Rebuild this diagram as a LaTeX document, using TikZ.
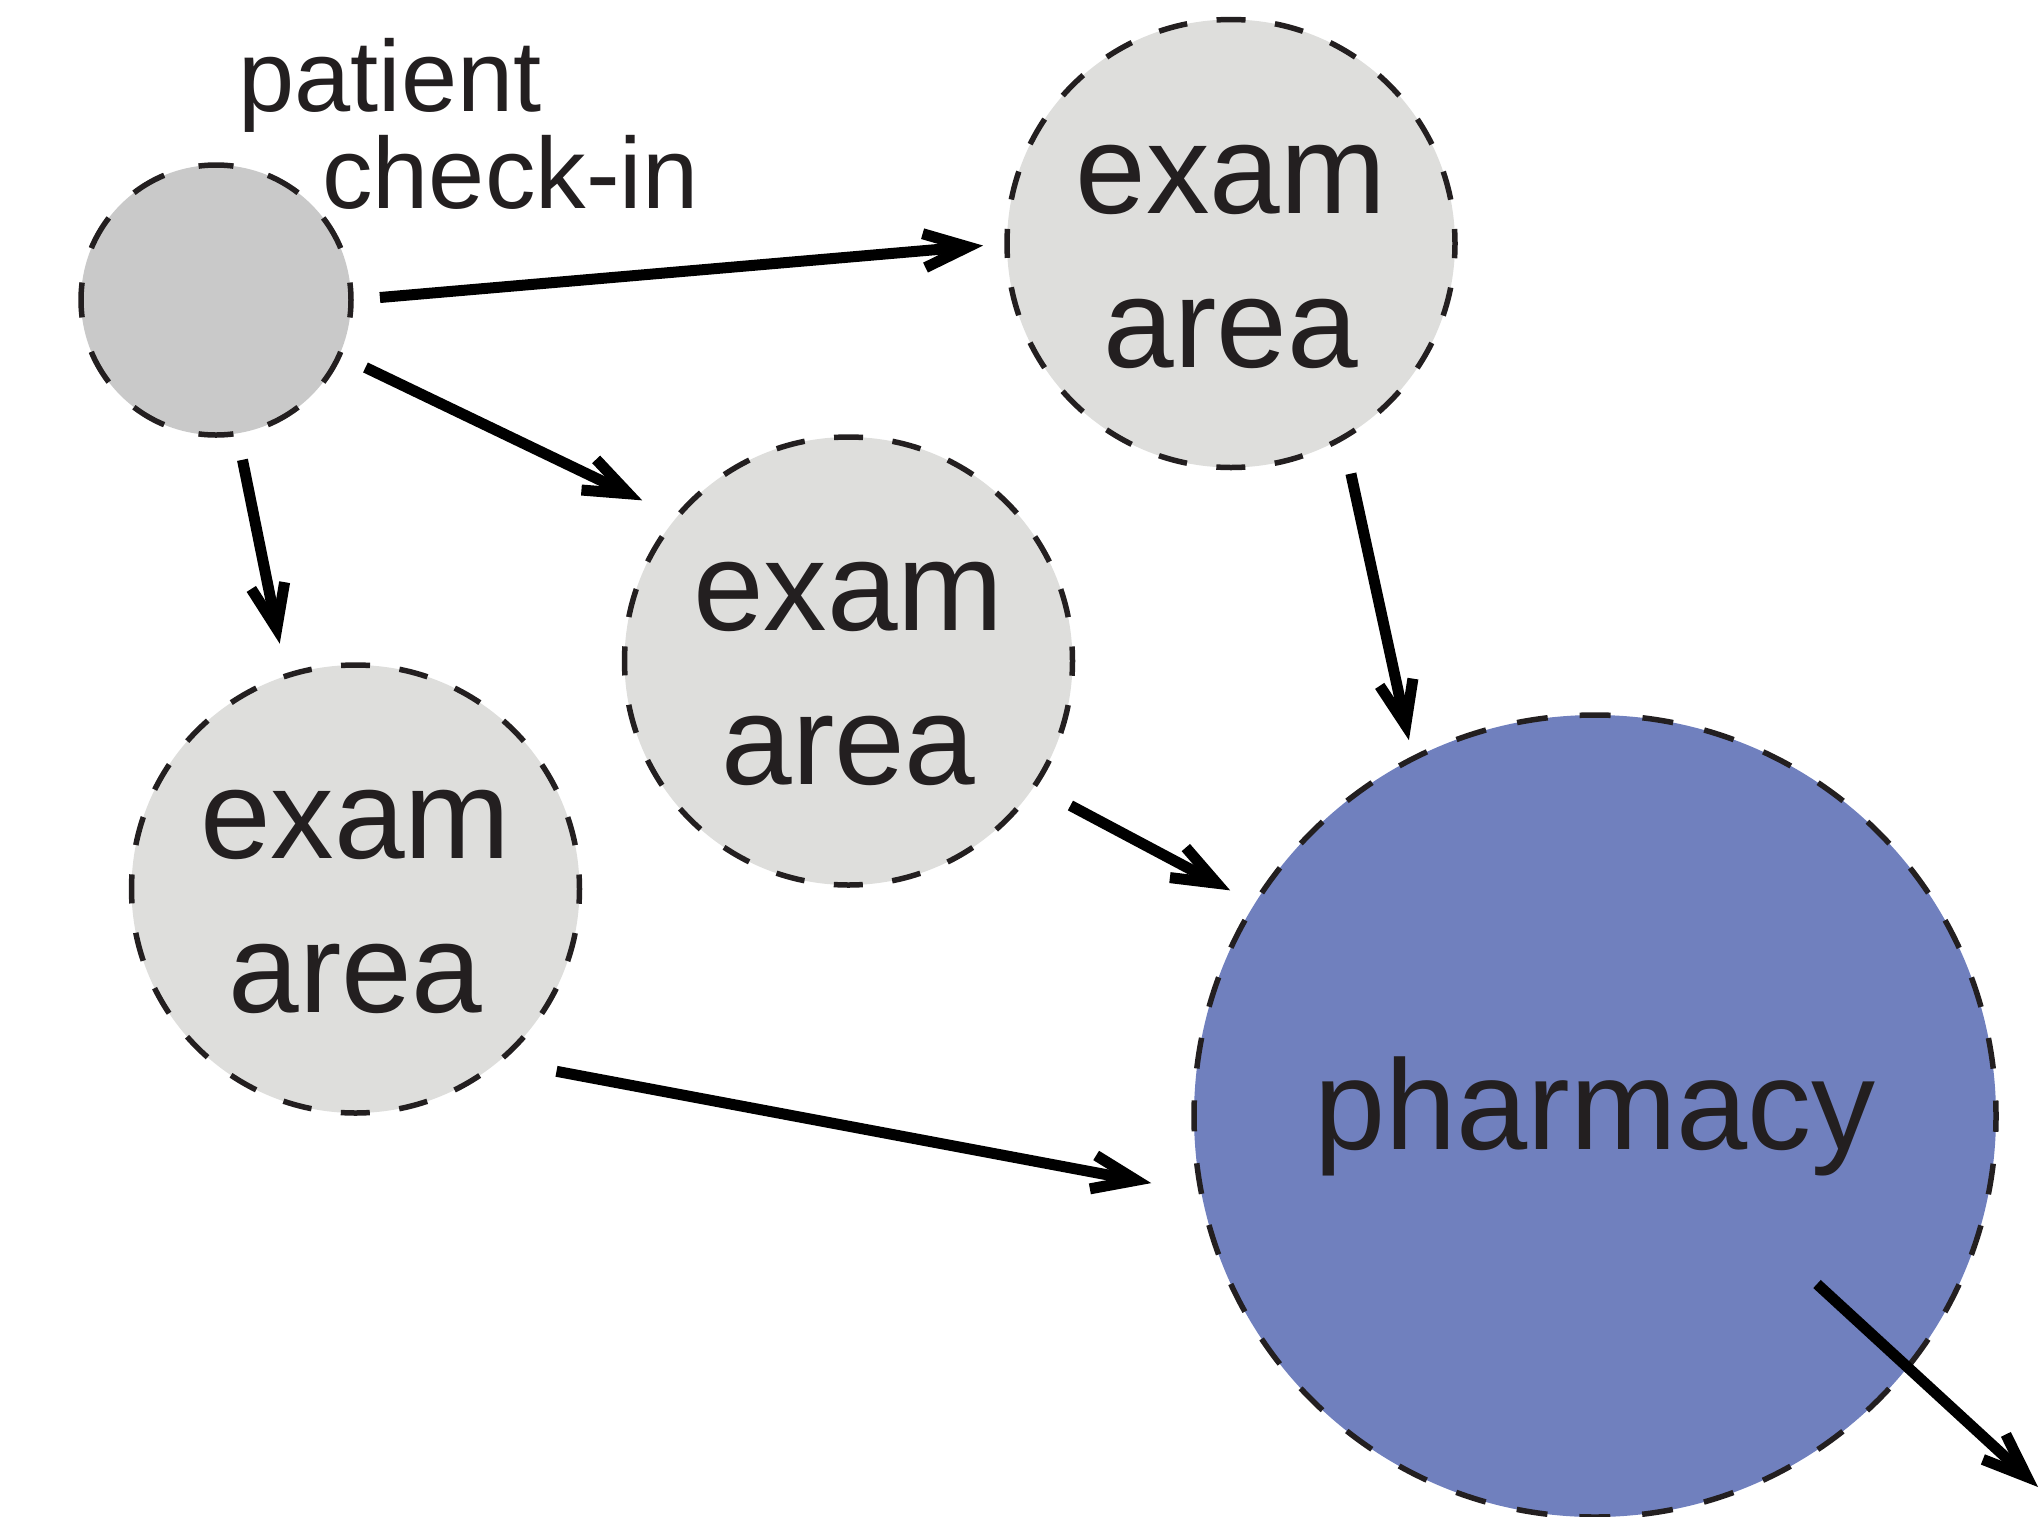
\documentclass[tikz,border=0pt]{standalone}
\usepackage{fontspec}
\setmainfont{Liberation Sans}
\usetikzlibrary{arrows.meta}
\definecolor{ink}{HTML}{231F20}
\definecolor{cifill}{HTML}{C9C9C9}
\definecolor{exfill}{HTML}{DEDEDC}
\definecolor{phfill}{HTML}{7080BE}
\begin{document}
\begin{tikzpicture}[x=1pt,y=-1pt,
  zone/.style={circle,draw=ink,line width=5.5pt,inner sep=0pt,outer sep=0pt,text=ink},
  smallzone/.style={zone,fill=cifill,minimum size=270pt,dash pattern=on 35pt off 35.69pt,dash phase=17.5pt},
  examzone/.style={zone,fill=exfill,minimum size=448pt,dash pattern=on 29pt off 29.64pt,dash phase=14.5pt,align=center,font=\fontsize{127pt}{154pt}\selectfont},
  pharmzone/.style={zone,fill=phfill,minimum size=802pt,dash pattern=on 31pt off 31.99pt,dash phase=15.5pt,font=\fontsize{128pt}{154pt}\selectfont},
  flow/.style={draw=black,line width=11pt,-{Straight Barb[length=44pt,width=34pt,line width=11pt,sharp]}},
  tag/.style={text=ink,inner sep=0pt,anchor=base west,font=\fontsize{101pt}{101pt}\selectfont}]
\useasboundingbox (0,0) rectangle (2042,1516);

\node[smallzone] (ci) at (216,300) {};
\node[examzone] (e1) at (1231,243.5) {\rule{0pt}{95pt}exam\\area};
\node[examzone] (e2) at (848.5,661) {\rule{0pt}{95pt}exam\\area};
\node[examzone] (e3) at (355.5,889) {\rule{0pt}{95pt}exam\\area};
\node[pharmzone] (ph) at (1595,1116) {pharmacy};

\node[tag] (t1) at (238,111) {patient};
\node[tag] (t2) at (322,208) {check-in};

\coordinate (p7a) at (1817,1284);
\coordinate (p7b) at (2038,1487);

\draw[flow,shorten <=29pt,shorten >=24pt] (ci.0) -- (e1.180);
\draw[flow,shorten <=29pt,shorten >=38.5pt] (ci.-24) -- (e2.140);
\draw[flow,shorten <=27pt,shorten >=33pt] (ci.-81) -- (e3.108);
\draw[flow,shorten <=37pt,shorten >=19pt] (e1.-60) -- (ph.117);
\draw[flow,shorten <=41pt,shorten >=28pt] (e2.-34) -- (ph.148);
\draw[flow,shorten <=58pt,shorten >=51pt] (e3.-50) -- (ph.191);
\draw[flow] (p7a) -- (p7b);
\end{tikzpicture}
\end{document}
